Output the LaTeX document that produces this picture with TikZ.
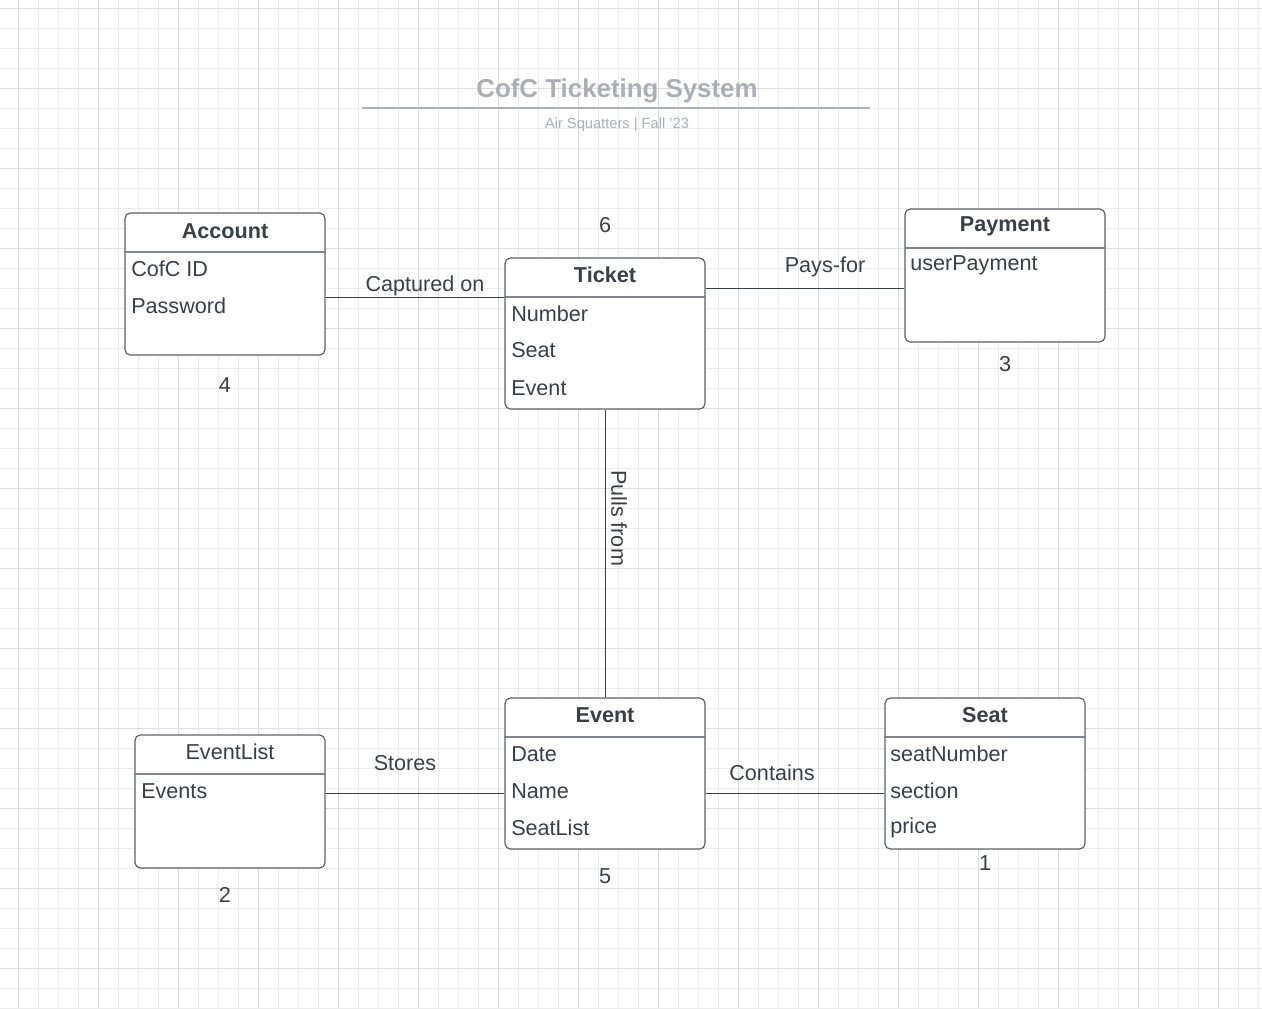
\documentclass[tikz,border=0pt]{standalone}
\usepackage{fontspec}
\setmainfont{Liberation Sans}
\usetikzlibrary{positioning,calc}
\definecolor{ink}{RGB}{58,63,71}
\definecolor{boxline}{RGB}{92,97,105}
\definecolor{divline}{RGB}{128,132,139}
\definecolor{headgrey}{RGB}{170,174,182}
\definecolor{gridminor}{RGB}{236,236,236}
\definecolor{gridmajor}{RGB}{220,220,220}
\tikzstyle{entity} = [rectangle, rounded corners=4pt, minimum width=150pt, draw=boxline, line width=0.9pt, fill=white, inner sep=0pt]
\tikzstyle{divider} = [draw=divline, line width=1.4pt]
\tikzstyle{attr} = [anchor=west, inner sep=0pt, text=ink, font=\fontsize{16.2}{19}\selectfont]
\tikzstyle{ctitle} = [inner sep=0pt, text=ink, font=\fontsize{16.2}{19}\selectfont\bfseries]
\tikzstyle{lbl} = [inner sep=0pt, text=ink, font=\fontsize{16.2}{19}\selectfont]
\tikzstyle{conn} = [draw=ink, line width=0.75pt]
\begin{document}
\begin{tikzpicture}[x=0.75pt, y=-0.75pt]
\useasboundingbox (0,0) rectangle (1262,1008);
% grid
\foreach \x in {18,38,...,1258} \draw[gridminor, line width=0.75pt] (\x,0) -- (\x,1008);
\foreach \y in {8,28,...,1008} \draw[gridminor, line width=0.75pt] (0,\y) -- (1262,\y);
\foreach \x in {18,98,...,1258} \draw[gridmajor, line width=0.75pt] (\x,0) -- (\x,1008);
\foreach \y in {8,88,...,1008} \draw[gridmajor, line width=0.75pt] (0,\y) -- (1262,\y);
% heading
\node[text=headgrey, font=\fontsize{19.4}{22}\selectfont\bfseries, inner sep=0pt] (title) at (617,91) {CofC Ticketing System};
\coordinate (ruleL) at (362,108);
\coordinate (ruleR) at (870,108);
\draw[headgrey, line width=1.6pt] (ruleL) -- (ruleR);
\node[text=headgrey, font=\fontsize{11}{13}\selectfont, inner sep=0pt] (subtitle) at (617,125) {Air Squatters | Fall '23};
% Account
\node (account) at (225,284) [entity, minimum height=106.5pt] {};
\draw[divider] ($(account.north west)+(0,40)$) -- ($(account.north east)+(0,40)$);
\node[ctitle] (accountT) at (225,231) {Account};
\node[attr] (acc1) at (131,269) {CofC ID};
\node[attr] (acc2) at (131,306) {Password};
\node[lbl] (n4) at (225,385) {4};
% Ticket
\node (ticket) at (605,333.5) [entity, minimum height=113.25pt] {};
\draw[divider] ($(ticket.north west)+(0,40)$) -- ($(ticket.north east)+(0,40)$);
\node[ctitle] (ticketT) at (605,275) {Ticket};
\node[attr] (tk1) at (511,314) {Number};
\node[attr] (tk2) at (511,350) {Seat};
\node[attr] (tk3) at (511,388) {Event};
\node[lbl] (n6) at (605,225) {6};
% Payment
\node (payment) at (1005,275.5) [entity, minimum height=99.75pt] {};
\draw[divider] ($(payment.north west)+(0,40)$) -- ($(payment.north east)+(0,40)$);
\node[ctitle] (paymentT) at (1005,226) {Payment};
\node[attr] (pay1) at (910,265) {userPayment};
\node[lbl] (n3) at (1005,364) {3};
% Event
\node (event) at (605,773.5) [entity, minimum height=113.25pt] {};
\draw[divider] ($(event.north west)+(0,40)$) -- ($(event.north east)+(0,40)$);
\node[ctitle] (eventT) at (605,715) {Event};
\node[attr] (ev1) at (511,754) {Date};
\node[attr] (ev2) at (511,791) {Name};
\node[attr] (ev3) at (511,828) {SeatList};
\node[lbl] (n5) at (605,876) {5};
\coordinate (evlink) at (505,793);
% EventList
\node (eventlist) at (230,801.5) [entity, minimum width=142.5pt, minimum height=99.75pt] {};
\draw[divider] ($(eventlist.north west)+(0,40)$) -- ($(eventlist.north east)+(0,40)$);
\node[lbl] (eventlistT) at (230,752) {EventList};
\node[attr] (el1) at (141,791) {Events};
\node[lbl] (n2) at (225,895) {2};
% Seat
\node (seat) at (985,773.5) [entity, minimum height=113.25pt] {};
\draw[divider] ($(seat.north west)+(0,40)$) -- ($(seat.north east)+(0,40)$);
\node[ctitle] (seatT) at (985,715) {Seat};
\node[attr] (st1) at (890,754) {seatNumber};
\node[attr] (st2) at (890,791) {section};
\node[attr] (st3) at (890,828) {price};
\node[lbl] (n1) at (985,863) {1};
% connectors
\draw[conn] ($(ticket.north west)+(0,40.5)$) -- (account.east |- {$(ticket.north west)+(0,40.5)$});
\node[lbl] (capt) at (425,286) {Captured on};
\draw[conn] ($(payment.west)+(0,12.5)$) -- (ticket.east |- {$(payment.west)+(0,12.5)$});
\node[lbl] (pays) at (825,267) {Pays-for};
\draw[conn] (ticket.south) -- (event.north);
\node[lbl, rotate=-90] (pulls) at (619,518) {Pulls from};
\draw[conn] (eventlist.east |- evlink) -- (event.west |- evlink);
\node[lbl] (stores) at (405,763) {Stores};
\draw[conn] (event.east |- evlink) -- (seat.west |- evlink);
\node[lbl] (contains) at (772,773) {Contains};
\end{tikzpicture}
\end{document}
